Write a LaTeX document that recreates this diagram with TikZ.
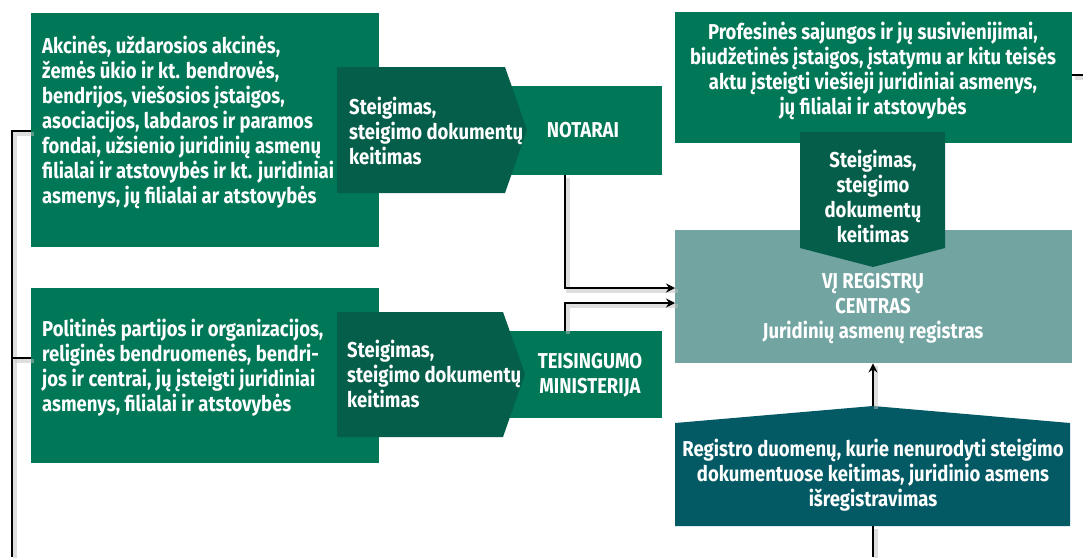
\documentclass[tikz,border=0pt]{standalone}
\usepackage{fontspec}
\newfontfamily\cf{Fira Sans}[FakeStretch=0.86]
\usetikzlibrary{arrows.meta}
\definecolor{gmain}{RGB}{0,120,88}
\definecolor{gdark}{RGB}{4,94,74}
\definecolor{teal}{RGB}{114,165,162}
\definecolor{bdark}{RGB}{3,90,100}
\tikzset{
  boxshape/.style={inner sep=0pt, anchor=north west},
  txt/.style={text=white, inner sep=0pt, font=\cf\bfseries\fontsize{21.5}{25}\selectfont},
  conn/.style={draw=black, line width=1.8pt},
  shade/.style={draw=black!25, line width=4pt, opacity=0.5, transform canvas={shift={(3pt,-3pt)}}},
  tip/.style={-{Stealth[length=9pt,width=9pt]}}
}
\begin{document}
\begin{tikzpicture}[x=1pt,y=-1pt]
\path[use as bounding box, fill=white] (0,0) rectangle (1083,557);
% boxes
\node[boxshape, fill=gmain, minimum width=348pt, minimum height=234pt] (b1) at (31,13) {};
\node[boxshape, fill=gmain, minimum width=157pt, minimum height=89pt] (notar) at (505,86) {};
\node[boxshape, fill=gmain, minimum width=348pt, minimum height=175pt] (b2) at (31,288) {};
\node[boxshape, fill=gmain, minimum width=157pt, minimum height=87pt] (tm) at (505,331) {};
\node[boxshape, fill=gmain, minimum width=397pt, minimum height=131pt] (prof) at (675,12) {};
\node[boxshape, fill=teal, minimum width=397pt, minimum height=133pt] (vrc) at (675,230) {};
% arrow shapes
\fill[gdark] (337,67) -- (505,67) -- (527,130) -- (505,193) -- (337,193) -- cycle;
\fill[gdark] (337,312) -- (503,312) -- (525,374) -- (503,437) -- (337,437) -- cycle;
\fill[gdark] (800,132) -- (945,132) -- (945,248) -- (873,267) -- (800,248) -- cycle;
\fill[bdark] (675,423) -- (873,406) -- (1070,423) -- (1070,526) -- (675,526) -- cycle;
\coordinate (regtop) at (873,406);
\coordinate (regbot) at (873,526);
% texts
\node[txt, anchor=west, align=left] (t1) at (42,122.5) {Akcinės, uždarosios akcinės,\\žemės ūkio ir kt. bendrovės,\\bendrijos, viešosios įstaigos,\\asociacijos, labdaros ir paramos\\fondai, užsienio juridinių asmenų\\filialai ir atstovybės ir kt. juridiniai\\asmenys, jų filialai ar atstovybės};
\node[txt, anchor=west, align=left] (a1) at (349,131) {Steigimas,\\steigimo dokumentų\\keitimas};
\node[txt] (tn) at (583,130) {NOTARAI};
\node[txt, anchor=west, align=left] (t2) at (42,368) {Politinės partijos ir organizacijos,\\religinės bendruomenės, bendri-\\jos ir centrai, jų įsteigti juridiniai\\asmenys, filialai ir atstovybės};
\node[txt, anchor=west, align=left] (a2) at (347,374) {Steigimas,\\steigimo dokumentų\\keitimas};
\node[txt, align=center] (ttm) at (590,375) {TEISINGUMO\\MINISTERIJA};
\node[txt, align=center] (tp) at (873,70.5) {Profesinės sajungos ir jų susivienijimai,\\biudžetinės įstaigos, įstatymu ar kitu teisės\\aktu įsteigti viešieji juridiniai asmenys,\\jų filialai ir atstovybės};
\node[txt, align=center] (a3) at (873,196) {Steigimas,\\steigimo\\dokumentų\\keitimas};
\node[txt, align=center] (tv) at (873,308.5) {VĮ REGISTRŲ\\CENTRAS\\Juridinių asmenų registras};
\node[txt, align=center] (reg) at (873,475) {Registro duomenų, kurie nenurodyti steigimo\\dokumentuose keitimas, juridinio asmens\\išregistravimas};
% connector coordinates
\coordinate (lx1) at (12,131);
\coordinate (lx2) at (12,358);
\coordinate (lbot) at (12,557);
\coordinate (n1) at (565,288);
\coordinate (n2) at (565,303);
\coordinate (pr) at (1083,75);
\coordinate (rb) at (873,557);
% shadows
\path[shade] (b1.west |- lx1) -- (lx1) -- (lbot);
\path[shade] (lx2) -- (b2.west |- lx2);
\path[shade] (notar.south -| n1) -- (n1) -- (vrc.west |- n1);
\path[shade] (tm.north -| n2) -- (n2) -- (vrc.west |- n2);
\path[shade] (regtop) -- (vrc.south -| regtop);
\path[shade] (regbot) -- (rb);
\path[shade] (prof.east |- pr) -- (pr);
% connectors
\draw[conn] (b1.west |- lx1) -- (lx1) -- (lbot);
\draw[conn] (lx2) -- (b2.west |- lx2);
\draw[conn, tip] (notar.south -| n1) -- (n1) -- (vrc.west |- n1);
\draw[conn, tip] (tm.north -| n2) -- (n2) -- (vrc.west |- n2);
\draw[conn, tip] (regtop) -- (vrc.south -| regtop);
\draw[conn] (regbot) -- (rb);
\draw[conn] (prof.east |- pr) -- (pr);
\end{tikzpicture}
\end{document}
